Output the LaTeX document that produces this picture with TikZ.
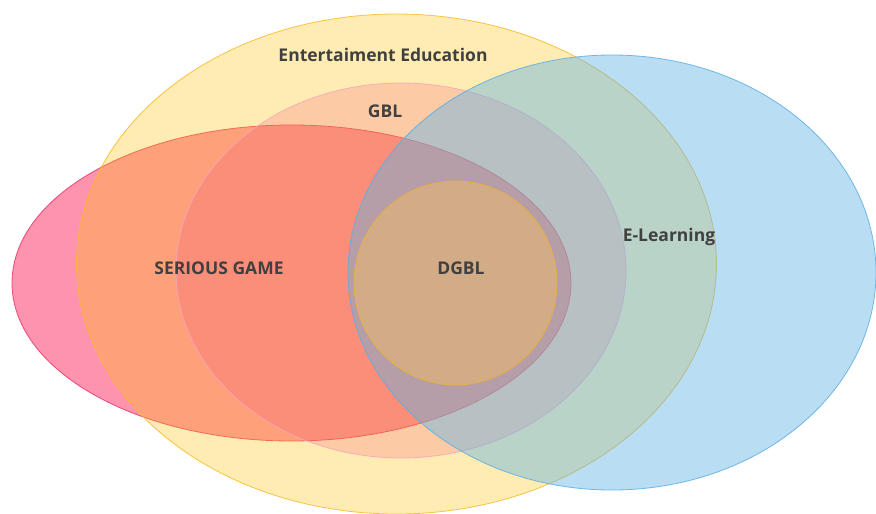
\documentclass[tikz,border=0pt]{standalone}
\usepackage{tikz}
\usepackage{xcolor}
\usepackage{fontspec}
\setmainfont{Open Sans}
\usetikzlibrary{positioning}

\definecolor{gamefill}{HTML}{FD275D}
\definecolor{gameedge}{HTML}{E8336B}
\definecolor{edufill}{HTML}{FFC000}
\definecolor{eduedge}{HTML}{F8B92A}
\definecolor{gblfill}{HTML}{F04878}
\definecolor{gbledge}{HTML}{F4A6BE}
\definecolor{elfill}{HTML}{64B4E5}
\definecolor{eledge}{HTML}{5DADE2}
\definecolor{dgblfill}{HTML}{FFC050}
\definecolor{dgbledge}{HTML}{F0B030}
\definecolor{textgray}{HTML}{404040}

\tikzset{
  venntext/.style={font=\bfseries\fontsize{17.5}{20}\selectfont, text=textgray},
}

\begin{document}
\begin{tikzpicture}[x=1pt,y=-1pt]
\useasboundingbox (0,0) rectangle (876,514);
% sets, back to front
\foreach \cx/\cy/\rx/\ry/\col/\op in {
    291.5/283/279.5/158/game/0.5,
    396.5/264/320/250/edu/0.3,
    401/270.5/225/187.5/gbl/0.2,
    612/272.5/264/217.5/el/0.45,
    455.5/283/101.5/102/dgbl/0.38
} {
    \fill[\col fill, fill opacity=\op] (\cx,\cy) ellipse [x radius=\rx, y radius=\ry];
    \draw[\col edge, line width=0.8pt, draw opacity=0.85] (\cx,\cy) ellipse [x radius=\rx, y radius=\ry];
}
\node[venntext] (edu) at (383,55) {Entertaiment Education};
\node[venntext] (gbl) at (385,111) {GBL};
\node[venntext] (game) at (219,268) {SERIOUS GAME};
\node[venntext] (dgbl) at (461,268) {DGBL};
\node[venntext] (el) at (669,237) {E-Learning};
\end{tikzpicture}
\end{document}
